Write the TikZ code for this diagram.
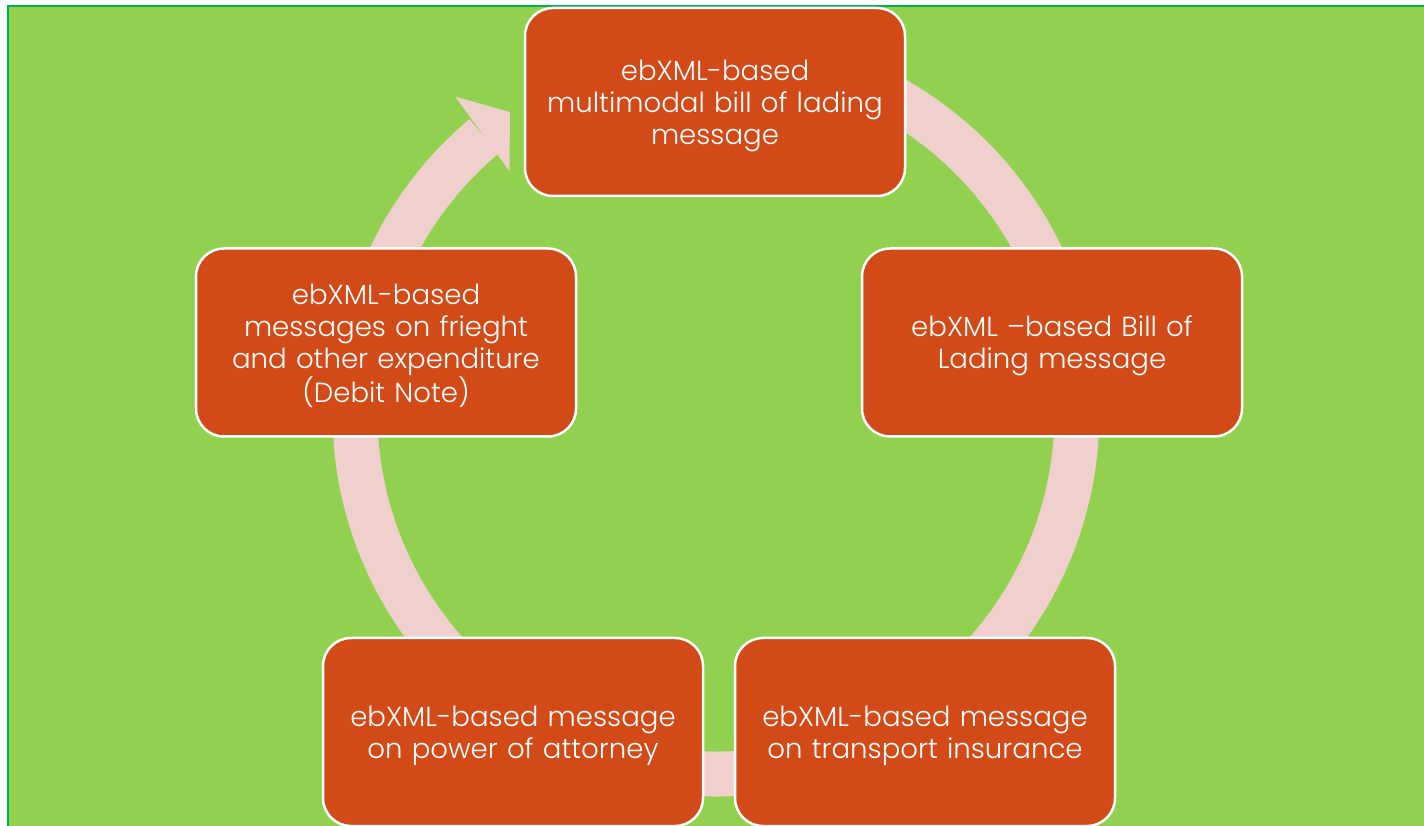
\documentclass[tikz,border=0pt]{standalone}
\usepackage{fontspec}
\setmainfont{Poppins}[UprightFont={* Light}]
\usetikzlibrary{calc}
\definecolor{bggreen}{HTML}{92D050}
\definecolor{edgegreen}{HTML}{00B050}
\definecolor{boxfill}{HTML}{D24A18}
\definecolor{ringpink}{HTML}{EFD0CD}
\tikzset{
  stagebox/.style={draw=white, line width=2.5pt, fill=boxfill, rounded corners=28pt,
    minimum width=380pt, minimum height=188pt, inner sep=0pt},
  stagetext/.style={text width=374pt, align=center, yshift=-3.5pt,
    text=white, font=\fontsize{27.6}{32}\selectfont, inner sep=0pt},
  ringband/.style={draw=ringpink, line width=45pt},
}
\begin{document}
\begin{tikzpicture}[x=1pt,y=1pt]
\useasboundingbox (0,0) rectangle (1424,825);
\fill[white] (0,0) rectangle (1424,825);
\begin{scope}
\clip (0,0) rectangle (1424,825);
\draw[fill=bggreen, draw=edgegreen, line width=1.8pt] (8,819) rectangle (1440,-20);
\coordinate (c) at (716,412);
\draw[ringband] ($(c)+(85:361)$) arc[start angle=85, end angle=-230, radius=361];
\fill[ringpink] ($(c)+(129.5:410)$) -- ($(c)+(124.4:364.7)$) -- ($(c)+(130.5:318)$) -- cycle;
\node[stagebox] (top) at (715,723) {};
\node[stagebox] (right) at (1052,482.5) {};
\node[stagebox] (bright) at (925,93) {};
\node[stagebox] (bleft) at (513,93) {};
\node[stagebox] (left) at (386,482.5) {};
\node[stagetext] (toptext) at (top.center) {ebXML-based\\multimodal bill of lading\\message};
\node[stagetext] (righttext) at (right.center) {ebXML –based Bill of\\Lading message};
\node[stagetext] (brighttext) at (bright.center) {ebXML-based message\\on transport insurance};
\node[stagetext] (blefttext) at (bleft.center) {ebXML-based message\\on power of attorney};
\node[stagetext] (lefttext) at (left.center) {ebXML-based\\messages on frieght\\and other expenditure\\(Debit Note)};
\end{scope}
\end{tikzpicture}
\end{document}
